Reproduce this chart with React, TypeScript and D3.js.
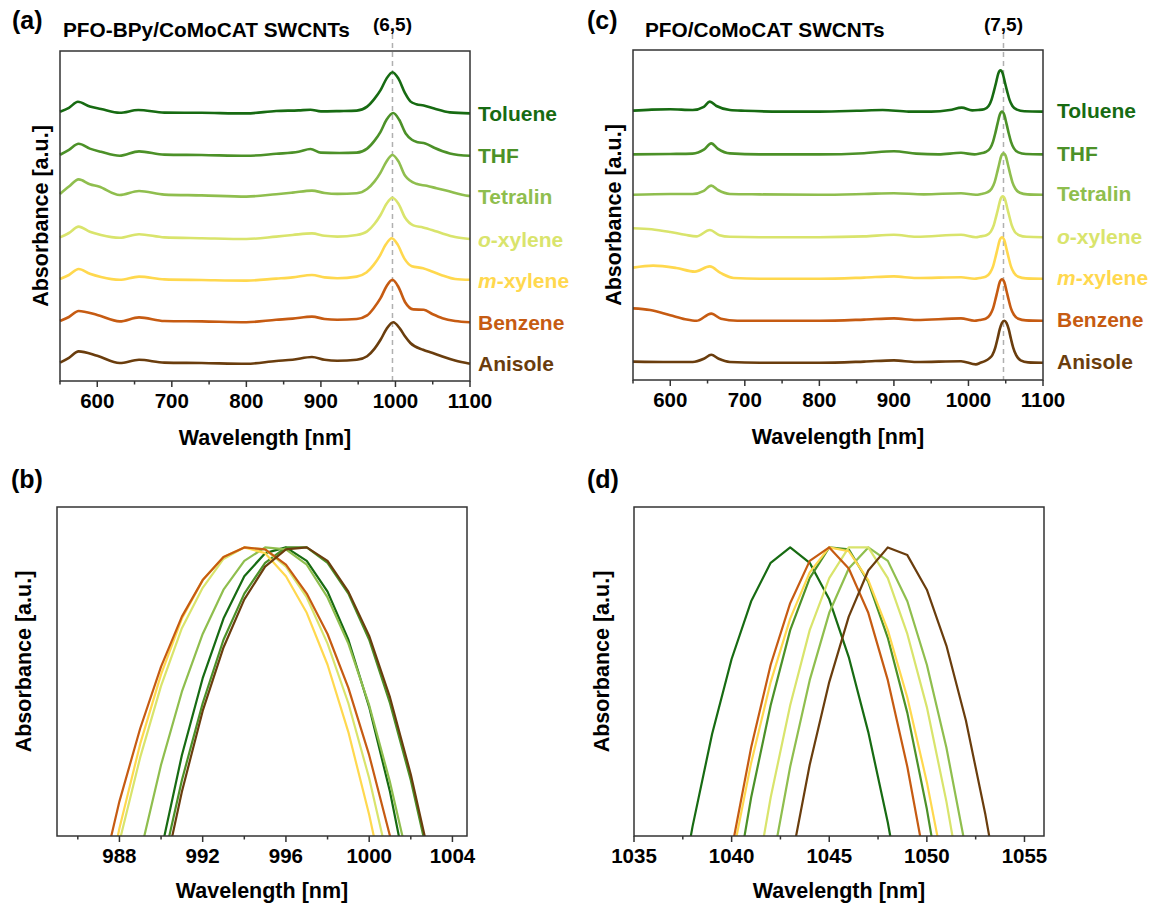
import React from 'react';
import * as d3 from 'd3';

// ---------- shared categories ----------
const SOLVENTS = ['Toluene', 'THF', 'Tetralin', 'o-xylene', 'm-xylene', 'Benzene', 'Anisole'];
const COLORS = ['#176b12', '#4c9128', '#8fbe4e', '#d9e46c', '#ffd84e', '#c65b12', '#6a3d0d'];

// ---------- panel (a): PFO-BPy / CoMoCAT, [nm, absorbance above own baseline] ----------
const A_TOLUENE: [number, number][] = [[550,0.04],[562,0.14],[574,0.29],[590,0.17],[605,0.11],[630,0.015],[655,0.085],[690,0.02],[740,0.015],[800,0.0],[840,0.06],[870,0.075],[886,0.09],[900,0.05],[925,0.058],[948,0.07],[962,0.17],[972,0.37],[980,0.58],[988,0.87],[996,1.03],[1004,0.87],[1013,0.5],[1020,0.3],[1028,0.23],[1038,0.2],[1052,0.12],[1073,0.025],[1100,0.0]];
const A_THF: [number, number][] = [[550,0.025],[562,0.15],[575,0.3],[590,0.18],[605,0.1],[630,0.0],[656,0.11],[690,0.03],[740,0.02],[800,0.0],[840,0.05],[870,0.1],[886,0.17],[900,0.08],[925,0.07],[948,0.08],[962,0.18],[972,0.38],[980,0.6],[988,0.9],[997,1.07],[1005,0.9],[1014,0.55],[1022,0.4],[1030,0.34],[1040,0.31],[1052,0.2],[1073,0.06],[1100,0.0]];
const A_TETRALIN: [number, number][] = [[550,0.067],[562,0.25],[575,0.43],[590,0.31],[602,0.25],[630,0.04],[656,0.14],[690,0.05],[740,0.03],[800,0.0],[840,0.06],[862,0.1],[888,0.15],[905,0.09],[922,0.067],[948,0.083],[962,0.19],[972,0.38],[980,0.6],[988,0.88],[996,1.04],[1004,0.88],[1013,0.52],[1028,0.32],[1042,0.27],[1055,0.21],[1068,0.15],[1098,0.017],[1100,0.015]];
const A_OXYLENE: [number, number][] = [[550,0.04],[562,0.15],[575,0.31],[590,0.18],[605,0.1],[630,0.03],[656,0.12],[690,0.04],[740,0.02],[800,0.0],[840,0.06],[862,0.1],[888,0.14],[905,0.08],[922,0.06],[948,0.1],[962,0.19],[972,0.38],[980,0.6],[988,0.88],[996,1.03],[1004,0.88],[1013,0.53],[1024,0.34],[1037,0.29],[1050,0.22],[1063,0.14],[1080,0.05],[1100,0.0]];
const A_MXYLENE: [number, number][] = [[550,0.04],[562,0.14],[575,0.29],[590,0.17],[605,0.09],[630,0.02],[656,0.1],[690,0.03],[740,0.015],[800,0.0],[840,0.05],[862,0.08],[888,0.14],[905,0.08],[922,0.06],[948,0.1],[961,0.2],[971,0.4],[979,0.62],[987,0.9],[995,1.06],[1003,0.9],[1012,0.55],[1022,0.36],[1037,0.31],[1050,0.22],[1063,0.13],[1080,0.04],[1100,0.02]];
const A_BENZENE: [number, number][] = [[550,0.03],[562,0.13],[575,0.28],[600,0.18],[630,0.02],[656,0.12],[690,0.03],[740,0.02],[800,0.0],[840,0.06],[862,0.09],[888,0.14],[905,0.08],[922,0.06],[948,0.08],[962,0.17],[972,0.38],[980,0.6],[988,0.9],[996,1.06],[1004,0.88],[1013,0.5],[1024,0.32],[1038,0.31],[1050,0.2],[1063,0.1],[1080,0.03],[1100,0.0]];
const A_ANISOLE: [number, number][] = [[550,0.03],[562,0.15],[575,0.31],[600,0.2],[630,0.02],[656,0.1],[690,0.03],[740,0.02],[800,0.0],[840,0.07],[862,0.1],[888,0.17],[905,0.1],[922,0.075],[948,0.1],[962,0.19],[972,0.38],[980,0.6],[988,0.87],[997,1.04],[1006,0.88],[1013,0.68],[1020,0.52],[1037,0.35],[1050,0.27],[1063,0.18],[1080,0.08],[1100,0.0]];
const A_SERIES = [A_TOLUENE, A_THF, A_TETRALIN, A_OXYLENE, A_MXYLENE, A_BENZENE, A_ANISOLE];
const A_OFFSETS = [6.69, 5.63, 4.61, 3.55, 2.51, 1.47, 0.43];

// ---------- panel (c): PFO / CoMoCAT ----------
const C_TOLUENE: [number, number][] = [[550,0.025],[575,0.05],[600,0.06],[630,0.04],[645,0.12],[653,0.25],[662,0.14],[680,0.04],[700,0.02],[750,0.0],[800,0.0],[850,0.02],[885,0.04],[920,0.0],[950,0.0],[975,0.04],[991,0.1],[1005,0.03],[1013,0.04],[1021,0.06],[1027,0.14],[1031,0.3],[1034,0.5],[1037,0.72],[1040,0.95],[1043,1.03],[1046,0.95],[1049,0.72],[1052,0.5],[1055,0.3],[1059,0.14],[1065,0.05],[1075,0.01],[1100,0.0]];
const C_THF: [number, number][] = [[550,0.0],[600,0.01],[630,0.02],[645,0.12],[655,0.275],[664,0.14],[680,0.025],[720,0.0],[800,0.0],[860,0.03],[900,0.08],[930,0.02],[960,0.0],[990,0.04],[1008,0.0],[1015,0.02],[1023,0.06],[1029,0.15],[1033,0.32],[1036,0.53],[1039,0.77],[1042,0.99],[1045,1.07],[1048,0.99],[1051,0.77],[1054,0.53],[1057,0.32],[1061,0.15],[1067,0.05],[1077,0.01],[1100,0.0]];
const C_TETRALIN: [number, number][] = [[550,0.0],[600,0.02],[630,0.02],[645,0.1],[655,0.23],[664,0.12],[680,0.02],[720,0.01],[800,0.0],[860,0.02],[900,0.04],[940,0.01],[990,0.04],[1010,0.0],[1017,0.02],[1025,0.06],[1031,0.15],[1035,0.31],[1038,0.52],[1041,0.75],[1044,0.97],[1047,1.04],[1050,0.97],[1053,0.75],[1056,0.52],[1059,0.31],[1063,0.15],[1069,0.05],[1079,0.01],[1100,0.0]];
const C_OXYLENE: [number, number][] = [[550,0.225],[575,0.2],[600,0.13],[620,0.06],[635,0.02],[653,0.18],[666,0.05],[680,0.01],[720,0.0],[800,0.0],[860,0.02],[900,0.06],[930,0.01],[990,0.06],[1010,0.0],[1016,0.02],[1024,0.05],[1030,0.14],[1034,0.3],[1037,0.51],[1040,0.73],[1043,0.95],[1046,1.02],[1049,0.95],[1052,0.73],[1055,0.51],[1058,0.3],[1062,0.14],[1068,0.05],[1078,0.01],[1100,0.0]];
const C_MXYLENE: [number, number][] = [[550,0.28],[577,0.33],[608,0.27],[633,0.18],[653,0.31],[668,0.14],[685,0.02],[720,0.0],[800,0.0],[860,0.03],[900,0.06],[930,0.02],[990,0.04],[1008,0.0],[1015,0.02],[1023,0.05],[1029,0.15],[1033,0.31],[1036,0.52],[1039,0.75],[1042,0.97],[1045,1.04],[1048,0.97],[1051,0.75],[1054,0.52],[1057,0.31],[1061,0.15],[1067,0.05],[1077,0.01],[1100,0.0]];
const C_BENZENE: [number, number][] = [[550,0.31],[573,0.27],[600,0.14],[620,0.04],[635,0.0],[655,0.18],[668,0.05],[690,0.0],[800,0.0],[860,0.03],[900,0.06],[930,0.02],[990,0.06],[1008,0.0],[1015,0.02],[1023,0.05],[1029,0.15],[1033,0.31],[1036,0.52],[1039,0.75],[1042,0.97],[1045,1.04],[1048,0.97],[1051,0.75],[1054,0.52],[1057,0.31],[1061,0.15],[1067,0.05],[1077,0.01],[1100,0.0]];
const C_ANISOLE: [number, number][] = [[550,0.03],[600,0.02],[630,0.02],[645,0.1],[655,0.2],[665,0.1],[680,0.02],[720,0.0],[800,0.0],[860,0.03],[900,0.06],[930,0.02],[990,0.04],[1010,-0.04],[1016,0.0],[1022,0.04],[1028,0.11],[1032,0.19],[1036,0.38],[1039,0.6],[1042,0.84],[1045,1.0],[1048,1.05],[1051,1.0],[1054,0.84],[1057,0.6],[1060,0.38],[1064,0.19],[1070,0.06],[1080,0.01],[1100,0.0]];
const C_SERIES = [C_TOLUENE, C_THF, C_TETRALIN, C_OXYLENE, C_MXYLENE, C_BENZENE, C_ANISOLE];
const C_OFFSETS = [6.71, 5.64, 4.63, 3.57, 2.53, 1.48, 0.43];

// ---------- panel (b): normalized (6,5) peak, 1 nm steps ----------
const B_NM = [987, 988, 989, 990, 991, 992, 993, 994, 995, 996, 997, 998, 999, 1000, 1001, 1002, 1003, 1004];
const B_TOLUENE = [0.636, 0.714, 0.783, 0.842, 0.892, 0.932, 0.963, 0.985, 0.997, 1.0, 0.993, 0.977, 0.952, 0.917, 0.873, 0.819, 0.756, 0.684];
const B_THF = [0.637, 0.710, 0.774, 0.831, 0.879, 0.919, 0.952, 0.976, 0.992, 1.0, 1.0, 0.992, 0.976, 0.952, 0.919, 0.879, 0.831, 0.774];
const B_TETRALIN = [0.725, 0.787, 0.841, 0.887, 0.925, 0.955, 0.978, 0.993, 1.0, 0.999, 0.991, 0.974, 0.950, 0.918, 0.878, 0.831, 0.775, 0.712];
const B_OXYLENE = [0.795, 0.847, 0.891, 0.928, 0.958, 0.979, 0.994, 1.0, 0.999, 0.990, 0.974, 0.950, 0.919, 0.880, 0.833, 0.779, 0.717, 0.647];
const B_MXYLENE = [0.802, 0.854, 0.898, 0.934, 0.963, 0.983, 0.995, 1.0, 0.997, 0.985, 0.966, 0.939, 0.904, 0.861, 0.811, 0.752, 0.686, 0.611];
const B_BENZENE = [0.822, 0.868, 0.906, 0.938, 0.964, 0.983, 0.995, 1.0, 0.999, 0.991, 0.976, 0.955, 0.927, 0.892, 0.850, 0.802, 0.747, 0.686];
const B_ANISOLE = [0.626, 0.700, 0.766, 0.823, 0.873, 0.915, 0.948, 0.973, 0.990, 0.999, 1.0, 0.993, 0.977, 0.954, 0.922, 0.882, 0.834, 0.778];
const B_SERIES = [B_TOLUENE, B_THF, B_TETRALIN, B_OXYLENE, B_MXYLENE, B_BENZENE, B_ANISOLE];

// ---------- panel (d): normalized (7,5) peak, 1 nm steps ----------
const D_NM = [1036, 1037, 1038, 1039, 1040, 1041, 1042, 1043, 1044, 1045, 1046, 1047, 1048, 1049, 1050, 1051, 1052, 1053, 1054, 1055];
const D_TOLUENE = [0.74, 0.799, 0.855, 0.903, 0.942, 0.972, 0.992, 1.0, 0.992, 0.973, 0.943, 0.904, 0.857, 0.801, 0.74, 0.67, 0.6, 0.52, 0.44, 0.36];
const D_BENZENE = [0.62, 0.66, 0.72, 0.78, 0.843, 0.896, 0.939, 0.971, 0.993, 1.0, 0.989, 0.966, 0.931, 0.886, 0.831, 0.766, 0.70, 0.62, 0.54, 0.46];
const D_MXYLENE = [0.62, 0.66, 0.71, 0.778, 0.837, 0.888, 0.930, 0.963, 0.987, 1.0, 0.998, 0.983, 0.957, 0.922, 0.878, 0.826, 0.765, 0.70, 0.63, 0.55];
const D_THF = [0.56, 0.62, 0.68, 0.744, 0.811, 0.870, 0.918, 0.957, 0.984, 1.0, 0.999, 0.982, 0.953, 0.914, 0.864, 0.805, 0.74, 0.67, 0.59, 0.51];
const D_OXYLENE = [0.50, 0.56, 0.62, 0.68, 0.745, 0.812, 0.870, 0.918, 0.957, 0.984, 1.0, 1.0, 0.984, 0.955, 0.917, 0.868, 0.810, 0.745, 0.67, 0.59];
const D_TETRALIN = [0.46, 0.52, 0.58, 0.64, 0.70, 0.767, 0.831, 0.886, 0.931, 0.966, 0.989, 1.0, 0.993, 0.972, 0.939, 0.896, 0.843, 0.781, 0.71, 0.63];
const D_ANISOLE = [0.43, 0.49, 0.55, 0.61, 0.66, 0.715, 0.772, 0.834, 0.887, 0.930, 0.964, 0.988, 1.0, 0.996, 0.978, 0.949, 0.910, 0.861, 0.804, 0.74];
const D_SERIES = [D_TOLUENE, D_THF, D_TETRALIN, D_OXYLENE, D_MXYLENE, D_BENZENE, D_ANISOLE];

// ---------- axis ticks ----------
const WIDE_MAJOR = [600, 700, 800, 900, 1000, 1100];
const WIDE_MINOR = [550, 650, 750, 850, 950, 1050];
const B_MAJOR = [988, 992, 996, 1000, 1004];
const B_MINOR = [986, 990, 994, 998, 1002];
const D_MAJOR = [1035, 1040, 1045, 1050, 1055];
const D_MINOR = [1037.5, 1042.5, 1047.5, 1052.5];

const FONT = "Arial, 'Liberation Sans', Helvetica, sans-serif";
const AXIS = '#333';

function LegendText({ name }: { name: string }) {
  if (name === 'o-xylene' || name === 'm-xylene') {
    return (<><tspan fontStyle="italic">{name[0]}</tspan>{name.slice(1)}</>);
  }
  return <>{name}</>;
}

function XAxis({ x, y0, major, minor }: { x: d3.ScaleLinear<number, number>; y0: number; major: number[]; minor: number[] }) {
  return (
    <g>
      {major.map((t) => (
        <g key={'M' + t}>
          <line x1={x(t)} x2={x(t)} y1={y0} y2={y0 + 6} stroke={AXIS} strokeWidth={1.5} />
          <text x={x(t)} y={y0 + 27} textAnchor="middle" fontSize={20.5} fontWeight="bold" fontFamily={FONT} fill="#000">{String(t)}</text>
        </g>
      ))}
      {minor.map((t) => (
        <line key={'m' + t} x1={x(t)} x2={x(t)} y1={y0} y2={y0 + 3.5} stroke={AXIS} strokeWidth={1.5} />
      ))}
    </g>
  );
}

function StackPanel({ left, top, right, bottom, series, offsets, dashNm, dashLabel, title, tag, tagX, yLabelX, legendX, legendDy }: any) {
  const x = d3.scaleLinear().domain([550, 1100]).range([left, right]);
  const y = d3.scaleLinear().domain([0, 8.25]).range([bottom, top]);
  return (
    <g>
      <line x1={x(dashNm)} x2={x(dashNm)} y1={34} y2={bottom} stroke="#b0b0b0" strokeWidth={1.5} strokeDasharray="5,4" />
      {series.map((s: [number, number][], i: number) => {
        const line = d3.line<[number, number]>().x((d) => x(d[0])).y((d) => y(d[1] + offsets[i])).curve(d3.curveMonotoneX);
        return <path key={i} d={line(s) || ''} fill="none" stroke={COLORS[i]} strokeWidth={2.6} strokeLinejoin="round" />;
      })}
      <rect x={left} y={top} width={right - left} height={bottom - top} fill="none" stroke={AXIS} strokeWidth={1.5} />
      <XAxis x={x} y0={bottom} major={WIDE_MAJOR} minor={WIDE_MINOR} />
      <text x={(left + right) / 2} y={bottom + 64} textAnchor="middle" fontSize={21.5} fontWeight="bold" fontFamily={FONT}>Wavelength [nm]</text>
      <text transform={`translate(${yLabelX},${(top + bottom) / 2}) rotate(-90)`} textAnchor="middle" dominantBaseline="central" fontSize={21.5} fontWeight="bold" fontFamily={FONT}>Absorbance [a.u.]</text>
      {SOLVENTS.map((n, i) => (
        <text key={n} x={legendX} y={y(offsets[i]) + legendDy} fontSize={21} fontWeight="bold" fontFamily={FONT} fill={COLORS[i]}><LegendText name={n} /></text>
      ))}
      <text x={tagX} y={29} fontSize={25} fontWeight="bold" fontFamily={FONT}>{tag}</text>
      <text x={title.x} y={37} fontSize={20.8} fontWeight="bold" fontFamily={FONT}>{title.text}</text>
      <text x={x(dashNm)} y={31} textAnchor="middle" fontSize={19} fontWeight="bold" fontFamily={FONT}>{dashLabel}</text>
    </g>
  );
}

function PeakPanel({ id, left, top, right, bottom, domain, nm, series, major, minor, tag, tagX, yLabelX }: any) {
  const x = d3.scaleLinear().domain(domain).range([left, right]);
  const y = d3.scaleLinear().domain([0.85, 1.021]).range([bottom, top]);
  const line = d3.line<number>().x((_, j) => x(nm[j])).y((d) => y(d)).curve(d3.curveLinear);
  return (
    <g>
      <defs>
        <clipPath id={id}><rect x={left} y={top} width={right - left} height={bottom - top} /></clipPath>
      </defs>
      <g clipPath={`url(#${id})`}>
        {series.map((s: number[], i: number) => (
          <path key={i} d={line(s) || ''} fill="none" stroke={COLORS[i]} strokeWidth={2.2} strokeLinejoin="round" />
        ))}
      </g>
      <rect x={left} y={top} width={right - left} height={bottom - top} fill="none" stroke={AXIS} strokeWidth={1.5} />
      <XAxis x={x} y0={bottom} major={major} minor={minor} />
      <text x={(left + right) / 2} y={bottom + 62} textAnchor="middle" fontSize={21.5} fontWeight="bold" fontFamily={FONT}>Wavelength [nm]</text>
      <text transform={`translate(${yLabelX},${(top + bottom) / 2 - 10}) rotate(-90)`} textAnchor="middle" dominantBaseline="central" fontSize={21.5} fontWeight="bold" fontFamily={FONT}>Absorbance [a.u.]</text>
      <text x={tagX} y={488} fontSize={25} fontWeight="bold" fontFamily={FONT}>{tag}</text>
    </g>
  );
}

export default function App() {
  return (
    <svg width={1151} height={903} viewBox="0 0 1151 903" style={{ position: 'absolute', left: 0, top: 0, background: '#fff' }}>
      <rect x={0} y={0} width={1151} height={903} fill="#fff" />
      <StackPanel left={60} top={51} right={470} bottom={381} series={A_SERIES} offsets={A_OFFSETS}
        dashNm={996} dashLabel="(6,5)" title={{ x: 63, text: 'PFO-BPy/CoMoCAT SWCNTs' }} tag="(a)" tagX={12}
        yLabelX={41} legendX={478} legendDy={7.5} />
      <StackPanel left={633} top={50} right={1043} bottom={380} series={C_SERIES} offsets={C_OFFSETS}
        dashNm={1047} dashLabel="(7,5)" title={{ x: 645, text: 'PFO/CoMoCAT SWCNTs' }} tag="(c)" tagX={587}
        yLabelX={614} legendX={1057} legendDy={6.5} />
      <PeakPanel id="clipB" left={57} top={507} right={467} bottom={836} domain={[985, 1004.7]} nm={B_NM} series={B_SERIES}
        major={B_MAJOR} minor={B_MINOR} tag="(b)" tagX={11} yLabelX={24} />
      <PeakPanel id="clipD" left={634} top={507} right={1044} bottom={836} domain={[1035, 1056]} nm={D_NM} series={D_SERIES}
        major={D_MAJOR} minor={D_MINOR} tag="(d)" tagX={587} yLabelX={602} />
    </svg>
  );
}
